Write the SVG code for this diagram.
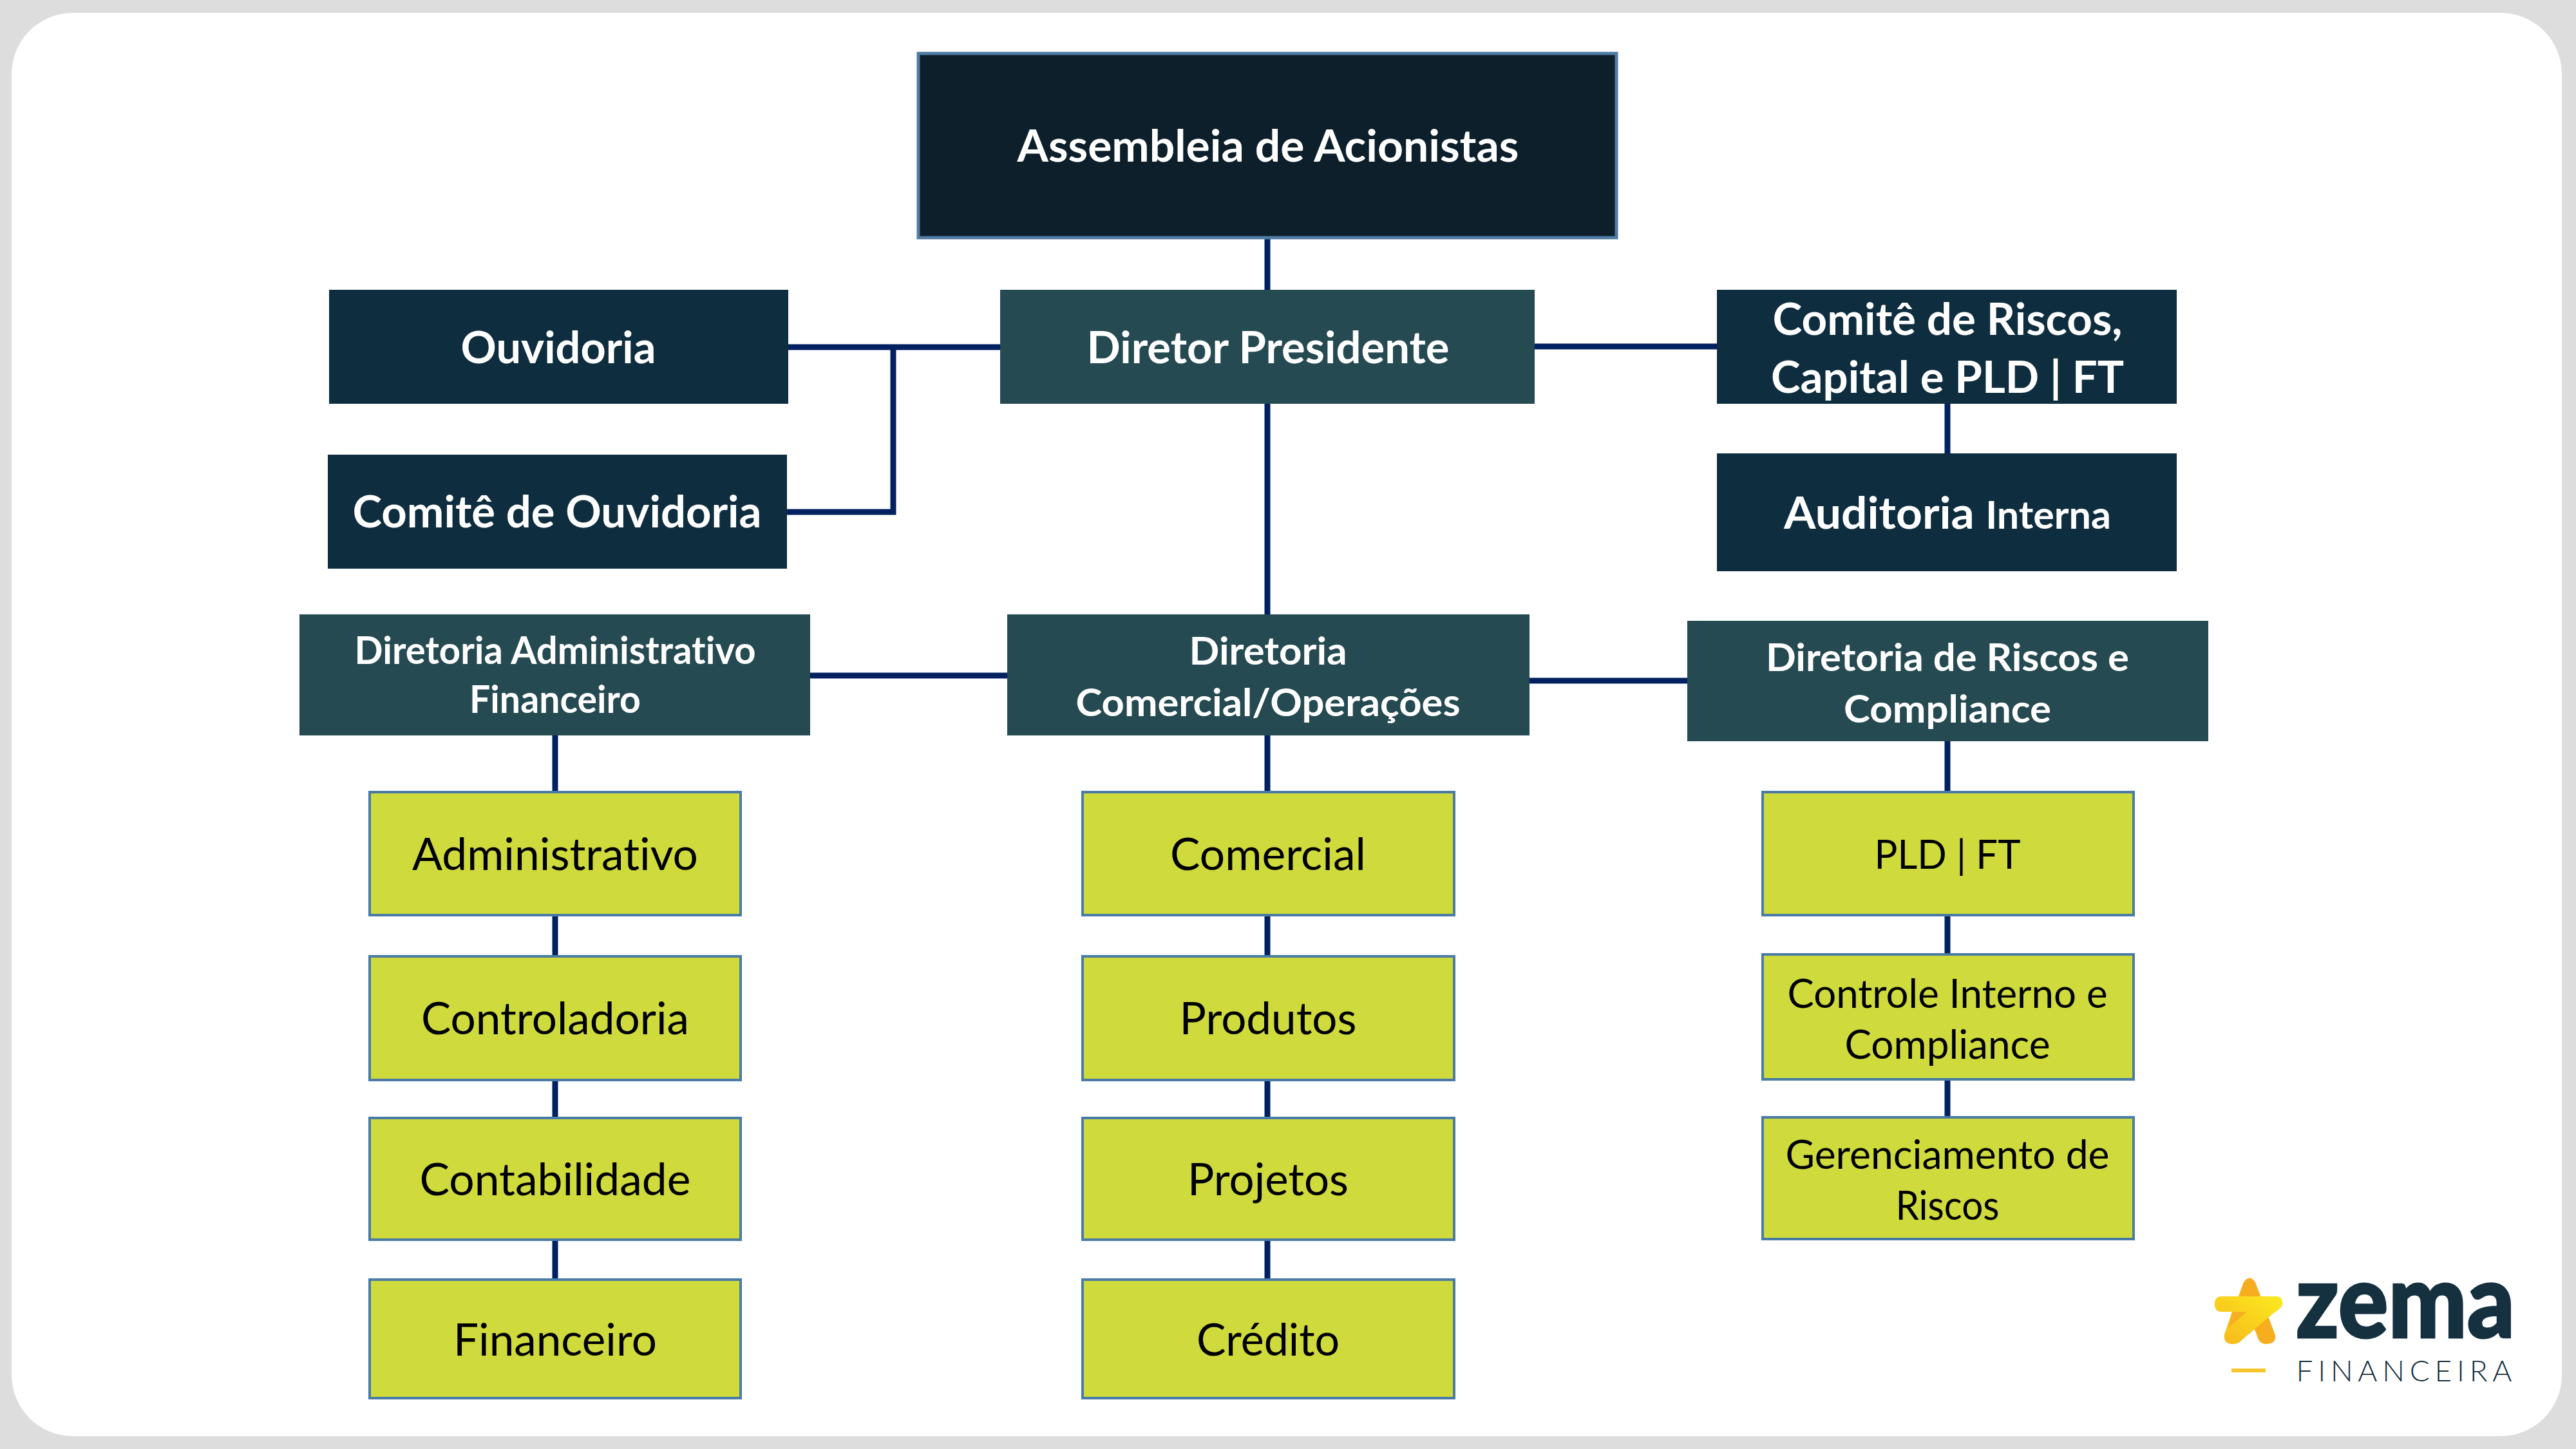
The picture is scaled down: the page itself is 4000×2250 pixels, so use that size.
<svg xmlns="http://www.w3.org/2000/svg" width="4000" height="2250" viewBox="0 0 4000 2250">
<defs>
<style>
text{font-family:Lato,"Liberation Sans",sans-serif;text-anchor:middle;font-variant-ligatures:none;font-kerning:normal}
.w{fill:#fff;font-weight:700;font-size:69px}
.s{fill:#fff;font-weight:700;font-size:59px}
.g{fill:#000;font-weight:400;font-size:69px}
.h{fill:#000;font-weight:400;font-size:61px}
.t{fill:#0C1F2B;stroke:#4F7BA3;stroke-width:5}
.n{fill:#0E2E40}
.d{fill:#254A52}
.b{fill:#CFDA3C;stroke:#4A7BA6;stroke-width:4}
.c path{fill:none;stroke:#002060;stroke-width:9}
</style>
<linearGradient id="star" x1="0" y1="1" x2="1" y2="0"><stop offset="0" stop-color="#F7B51B"/><stop offset="1" stop-color="#FBEB1F"/></linearGradient>
</defs>
<rect width="4000" height="2250" fill="#DDDDDD"/>
<rect x="18" y="20" width="3960" height="2210" rx="95" ry="95" fill="#fff"/>
<g id="connectors" class="c">
<path d="M1968 371V450"/>
<path d="M1968 627V954"/>
<path d="M1224 539H1553"/>
<path d="M1222 795H1387V539"/>
<path d="M2383 538H2666"/>
<path d="M3024 627V704"/>
<path d="M1258 1049H1564"/>
<path d="M2375 1057H2620"/>
<path d="M862 1142V1230M862 1421V1485M862 1677V1736M862 1925V1987"/>
<path d="M1968 1142V1230M1968 1421V1485M1968 1677V1736M1968 1925V1987"/>
<path d="M3024 1151V1230M3024 1421V1482M3024 1676V1735"/>
</g>
<g id="assembleia"><rect class="t" x="1426" y="83" width="1084" height="286"/><text class="w" x="1969" y="251" textLength="779" lengthAdjust="spacingAndGlyphs">Assembleia de Acionistas</text></g>
<g id="diretor-presidente"><rect class="d" x="1553" y="450" width="830" height="177"/><text class="w" x="1969" y="564" textLength="563" lengthAdjust="spacingAndGlyphs">Diretor Presidente</text></g>
<g id="ouvidoria"><rect class="n" x="511" y="450" width="713" height="177"/><text class="w" x="867" y="564" textLength="303" lengthAdjust="spacingAndGlyphs">Ouvidoria</text></g>
<g id="comite-ouvidoria"><rect class="n" x="509" y="706" width="713" height="177"/><text class="w" x="865" y="819" textLength="635" lengthAdjust="spacingAndGlyphs">Comitê de Ouvidoria</text></g>
<g id="comite-riscos"><rect class="n" x="2666" y="450" width="714" height="177"/><text class="w" x="3024" y="520" textLength="543" lengthAdjust="spacingAndGlyphs">Comitê de Riscos,</text><text class="w" x="3024" y="610" textLength="548" lengthAdjust="spacingAndGlyphs">Capital e PLD | FT</text></g>
<g id="auditoria"><rect class="n" x="2666" y="704" width="714" height="183"/><text class="w" x="3024" y="821" textLength="508" lengthAdjust="spacingAndGlyphs">Auditoria <tspan font-size="59">Interna</tspan></text></g>
<g id="dir-adm"><rect class="d" x="465" y="954" width="793" height="188"/><text class="s" x="862" y="1031" textLength="623" lengthAdjust="spacingAndGlyphs">Diretoria Administrativo</text><text class="s" x="862" y="1107" textLength="266" lengthAdjust="spacingAndGlyphs">Financeiro</text></g>
<g id="dir-com"><rect class="d" x="1564" y="954" width="811" height="188"/><text class="s" x="1969" y="1032" textLength="245" lengthAdjust="spacingAndGlyphs">Diretoria</text><text class="s" x="1969" y="1112" textLength="597" lengthAdjust="spacingAndGlyphs">Comercial/Operações</text></g>
<g id="dir-riscos"><rect class="d" x="2620" y="964" width="809" height="187"/><text class="s" x="3024" y="1042" textLength="564" lengthAdjust="spacingAndGlyphs">Diretoria de Riscos e</text><text class="s" x="3024" y="1122" textLength="322" lengthAdjust="spacingAndGlyphs">Compliance</text></g>
<g id="administrativo"><rect class="b" x="574" y="1230" width="576" height="191"/><text class="g" x="862" y="1351" textLength="444" lengthAdjust="spacingAndGlyphs">Administrativo</text></g>
<g id="controladoria"><rect class="b" x="574" y="1485" width="576" height="192"/><text class="g" x="862" y="1606" textLength="416" lengthAdjust="spacingAndGlyphs">Controladoria</text></g>
<g id="contabilidade"><rect class="b" x="574" y="1736" width="576" height="189"/><text class="g" x="862" y="1856" textLength="421" lengthAdjust="spacingAndGlyphs">Contabilidade</text></g>
<g id="financeiro"><rect class="b" x="574" y="1987" width="576" height="184"/><text class="g" x="862" y="2105" textLength="316" lengthAdjust="spacingAndGlyphs">Financeiro</text></g>
<g id="comercial"><rect class="b" x="1681" y="1230" width="577" height="191"/><text class="g" x="1969" y="1351" textLength="304" lengthAdjust="spacingAndGlyphs">Comercial</text></g>
<g id="produtos"><rect class="b" x="1681" y="1485" width="577" height="192"/><text class="g" x="1969" y="1606" textLength="275" lengthAdjust="spacingAndGlyphs">Produtos</text></g>
<g id="projetos"><rect class="b" x="1681" y="1736" width="577" height="189"/><text class="g" x="1969" y="1856" textLength="250" lengthAdjust="spacingAndGlyphs">Projetos</text></g>
<g id="credito"><rect class="b" x="1681" y="1987" width="577" height="184"/><text class="g" x="1969" y="2105" textLength="222" lengthAdjust="spacingAndGlyphs">Crédito</text></g>
<g id="pld"><rect class="b" x="2737" y="1230" width="576" height="191"/><text class="h" x="3024" y="1349" textLength="227" lengthAdjust="spacingAndGlyphs">PLD | FT</text></g>
<g id="controle"><rect class="b" x="2737" y="1482" width="576" height="194"/><text class="h" x="3024" y="1565" textLength="497" lengthAdjust="spacingAndGlyphs">Controle Interno e</text><text class="h" x="3024" y="1644" textLength="319" lengthAdjust="spacingAndGlyphs">Compliance</text></g>
<g id="gerenciamento"><rect class="b" x="2737" y="1735" width="576" height="189"/><text class="h" x="3024" y="1815" textLength="503" lengthAdjust="spacingAndGlyphs">Gerenciamento de</text><text class="h" x="3024" y="1894" textLength="161" lengthAdjust="spacingAndGlyphs">Riscos</text></g>
<g id="logo">
<path fill="#F6AE1E" d="M3476 2013L3484 1991Q3493 1978 3502 1991L3533 2073Q3535 2087 3518 2087Q3508 2087 3504 2072L3490 2037H3476Z"/>
<path fill="url(#star)" d="M3466 2037L3454 2072Q3452 2087 3468 2087Q3476 2087 3482 2080L3533 2037Q3546 2030 3544 2022Q3544 2013 3534 2013H3450Q3439 2013 3439 2025Q3439 2037 3450 2037Z"/>
<path fill="#F5B021" d="M3466 2037H3489L3460 2062Z"/>
<rect x="3465" y="2125" width="53" height="6" fill="#F9C52B"/>
<text x="3735" y="2077" font-size="160" font-weight="900" fill="#15303F" stroke="#15303F" stroke-width="3" textLength="340" lengthAdjust="spacingAndGlyphs">zema</text>
<text x="3733" y="2145" font-size="46" font-weight="300" fill="#15303F" textLength="335">FINANCEIRA</text>
</g>
</svg>
